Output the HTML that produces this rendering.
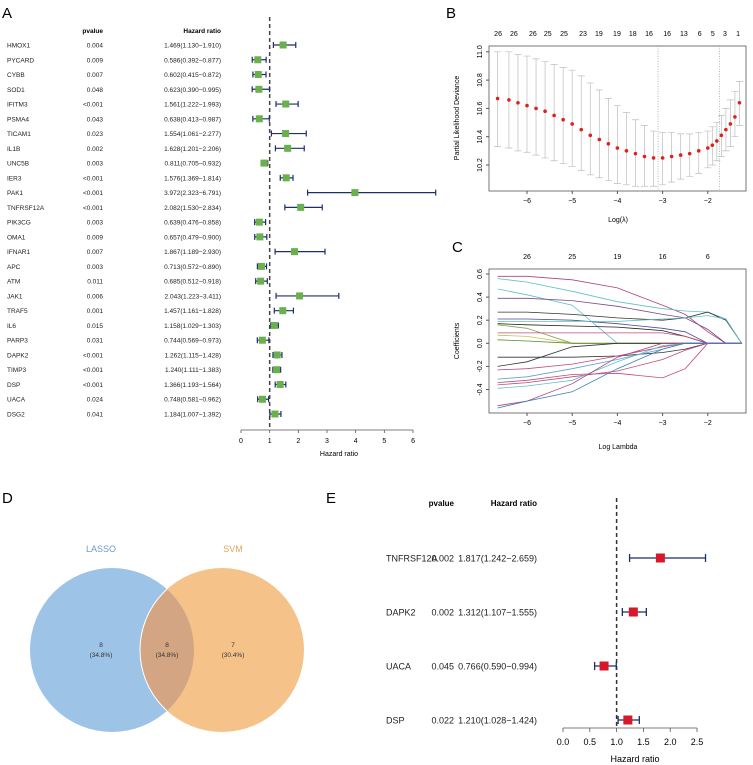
<!DOCTYPE html>
<html><head><meta charset="utf-8">
<style>
html,body{margin:0;padding:0;background:#fff;}
svg{display:block;font-family:"Liberation Sans",Arial,sans-serif;}
</style></head>
<body>
<svg id="fig" width="753" height="765" viewBox="0 0 753 765">
<text x="2" y="18" font-size="15">A</text>
<text x="446" y="18" font-size="15">B</text>
<text x="452" y="252" font-size="15">C</text>
<text x="2" y="503" font-size="15">D</text>
<text x="326" y="503" font-size="15">E</text>
<g id="pa"></g>
<g id="pb"></g>
<g id="pc"></g>
<g id="pd">
  <circle cx="112" cy="650" r="82" fill="#9dc3e6"/>
  <circle cx="222" cy="650" r="82" fill="#f5c28a"/>
  <clipPath id="cl"><circle cx="112" cy="650" r="82"/></clipPath>
  <circle cx="222" cy="650" r="82" fill="#d3a583" clip-path="url(#cl)" stroke="#fff" stroke-width="1"/>
  <text x="101" y="552" font-size="9" fill="#6a9cc9" text-anchor="middle">LASSO</text>
  <text x="233" y="552" font-size="9" fill="#e9a35c" text-anchor="middle">SVM</text>
  <g font-size="6.5" fill="#333" text-anchor="middle">
  <text x="101" y="647">8</text><text x="101" y="657">(34.8%)</text>
  <text x="167" y="647">8</text><text x="167" y="657">(34.8%)</text>
  <text x="233" y="647">7</text><text x="233" y="657">(30.4%)</text>
  </g>
</g>
<g id="pe"></g>
</svg>
<script>
// ---- Panel A data
const genesA=["HMOX1","PYCARD","CYBB","SOD1","IFITM3","PSMA4","TICAM1","IL1B","UNC5B","IER3","PAK1","TNFRSF12A","PIK3CG","OMA1","IFNAR1","APC","ATM","JAK1","TRAF5","IL6","PARP3","DAPK2","TIMP3","DSP","UACA","DSG2"];
const pvalsA=["0.004","0.009","0.007","0.048","<0.001","0.043","0.023","0.002","0.003","<0.001","<0.001","<0.001","0.003","0.009","0.007","0.003","0.011","0.006","0.001","0.015","0.031","<0.001","<0.001","<0.001","0.024","0.041"];
const hrA=[1.469,0.586,0.602,0.623,1.561,0.638,1.554,1.628,0.811,1.576,3.972,2.082,0.639,0.657,1.867,0.713,0.685,2.043,1.457,1.158,0.744,1.262,1.240,1.366,0.748,1.184];
const loA=[1.130,0.392,0.415,0.390,1.222,0.413,1.061,1.201,0.705,1.369,2.323,1.530,0.476,0.479,1.189,0.572,0.512,1.223,1.161,1.029,0.569,1.115,1.111,1.193,0.581,1.007];
const hiA=[1.910,0.877,0.872,0.995,1.993,0.987,2.277,2.206,0.932,1.814,6.791,2.834,0.858,0.900,2.930,0.890,0.918,3.411,1.828,1.303,0.973,1.428,1.383,1.564,0.962,1.392];
const ticksA=[0,1,2,3,4,5,6];
// ---- Panel B data
const lamB=[-6.65,-6.4,-6.2,-6.0,-5.8,-5.6,-5.4,-5.2,-5.0,-4.8,-4.6,-4.4,-4.2,-4.0,-3.8,-3.6,-3.4,-3.2,-3.0,-2.8,-2.6,-2.4,-2.2,-2.0,-1.9,-1.8,-1.7,-1.6,-1.5,-1.4,-1.3];
const meanB=[10.67,10.66,10.64,10.62,10.60,10.58,10.55,10.52,10.49,10.45,10.41,10.38,10.35,10.32,10.30,10.28,10.26,10.25,10.25,10.26,10.27,10.28,10.30,10.32,10.34,10.37,10.41,10.45,10.49,10.54,10.64];
const upB=[11.00,11.00,10.98,10.97,10.95,10.93,10.91,10.89,10.87,10.83,10.78,10.73,10.67,10.62,10.57,10.52,10.48,10.44,10.43,10.43,10.42,10.42,10.43,10.44,10.47,10.50,10.55,10.60,10.66,10.72,10.79];
const loB=[10.33,10.32,10.30,10.29,10.27,10.25,10.23,10.21,10.19,10.16,10.13,10.11,10.09,10.07,10.06,10.05,10.05,10.05,10.06,10.08,10.10,10.12,10.14,10.18,10.20,10.23,10.26,10.30,10.33,10.40,10.48];
const topLabB=["26","26","26","25","25","23","19","19","18","16","16","13","6","5","3","1"];
const topPosB=[-6.64,-6.29,-5.87,-5.54,-5.18,-4.76,-4.41,-4.01,-3.66,-3.30,-2.90,-2.53,-2.18,-1.89,-1.62,-1.33];
const vlinesB=[-3.1,-1.74];
const xticksBC=[-6,-5,-4,-3,-2];
const yticksB=[10.2,10.4,10.6,10.8,11.0];
// ---- Panel C data
const lamC=[-6.65,-6.0,-5.0,-4.0,-3.0,-2.5,-2.0,-1.6,-1.25];
const coefC=[
 [0.58,0.58,0.55,0.48,0.33,0.25,0.10,0.0,0.0],
 [0.56,0.53,0.45,0.36,0.30,0.28,0.27,0.21,0.0],
 [0.47,0.42,0.33,0.0,0.0,0.0,0.0,0.0,0.0],
 [0.39,0.39,0.37,0.32,0.25,0.22,0.12,0.0,0.0],
 [0.27,0.27,0.25,0.22,0.20,0.22,0.27,0.20,0.0],
 [0.21,0.21,0.20,0.17,0.13,0.10,0.0,0.0,0.0],
 [0.19,0.19,0.19,0.19,0.21,0.22,0.24,0.21,0.0],
 [0.17,0.16,0.15,0.14,0.11,0.06,0.0,0.0,0.0],
 [0.16,0.13,0.0,0.0,0.0,0.0,0.0,0.0,0.0],
 [0.09,0.09,0.09,0.09,0.09,0.06,0.0,0.0,0.0],
 [0.07,0.06,0.0,0.0,0.0,0.0,0.0,0.0,0.0],
 [0.03,0.02,0.0,0.0,0.0,0.0,0.0,0.0,0.0],
 [-0.12,-0.12,-0.12,-0.11,-0.08,-0.05,0.0,0.0,0.0],
 [-0.20,-0.16,-0.03,0.0,0.0,0.0,0.0,0.0,0.0],
 [-0.23,-0.22,-0.18,-0.11,-0.03,0.0,0.0,0.0,0.0],
 [-0.31,-0.29,-0.22,-0.14,-0.05,0.0,0.0,0.0,0.0],
 [-0.34,-0.32,-0.27,-0.26,-0.30,-0.22,0.0,0.0,0.0],
 [-0.36,-0.34,-0.29,-0.24,-0.14,-0.06,0.0,0.0,0.0],
 [-0.39,-0.37,-0.32,-0.16,-0.02,0.0,0.0,0.0,0.0],
 [-0.54,-0.50,-0.35,-0.12,0.0,0.0,0.0,0.0,0.0],
 [-0.56,-0.50,-0.42,-0.22,-0.05,0.0,0.0,0.0,0.0]
];
const colorsC=["#b0427a","#5fc0c8","#5fc0c8","#7a4a8a","#333333","#4a4a9a","#5fc0c8","#222222","#7aa84a","#c04a7a","#c8c04a","#5a8a3a","#333333","#333333","#c04a7a","#5fa0d0","#c04a7a","#c04a7a","#5fc0c8","#b0427a","#3a7ac0"];
const yticksC=[-0.4,-0.2,0.0,0.2,0.4,0.6];
const topLabC=["26","25","19","16","6"];
// ---- Panel E data
const genesE=["TNFRSF12A","DAPK2","UACA","DSP"];
const pvalsE=["0.002","0.002","0.045","0.022"];
const hrE=[1.817,1.312,0.766,1.210];
const loE=[1.242,1.107,0.590,1.028];
const hiE=[2.659,1.555,0.994,1.424];
const ticksE=[0.0,0.5,1.0,1.5,2.0,2.5];

const NS="http://www.w3.org/2000/svg";
function mk(parent,tag,attrs,text){const e=document.createElementNS(NS,tag);for(const k in attrs)e.setAttribute(k,attrs[k]);if(text!==undefined)e.textContent=text;parent.appendChild(e);return e;}

// ===== Panel A
(function(){
 const g=document.getElementById('pa');
 const xA=v=>241+v*28.67;
 const yA=i=>45+i*14.76;
 let t=mk(g,'text',{x:103,y:33,'font-size':6.5,'font-weight':'bold','text-anchor':'end'},'pvalue');
 
 
 t=mk(g,'text',{x:221,y:33,'font-size':6.5,'font-weight':'bold','text-anchor':'end'},'Hazard ratio');
 
 
 let l=mk(g,'line',{x1:xA(1),x2:xA(1),y1:17,y2:430,stroke:'#444','stroke-width':1.5,'stroke-dasharray':'4,3'});
 
 
 genesA.forEach((gn,i)=>{
  const y=yA(i);
  let a=mk(g,'text',{x:7,y:y+2.5,'font-size':6.5,fill:'#222'},gn);
  
  
  a=mk(g,'text',{x:103,y:y+2.5,'font-size':6.5,fill:'#222','text-anchor':'end'},pvalsA[i]);
  
  
  a=mk(g,'text',{x:221,y:y+2.5,'font-size':6.5,fill:'#222','text-anchor':'end'},hrA[i].toFixed(3)+'('+loA[i].toFixed(3)+'\u2212'+hiA[i].toFixed(3)+')');
  
  
  const x1=xA(loA[i]),x2=xA(hiA[i]);
  const ci=mk(g,'path',{d:`M${x1},${y}H${x2}M${x1},${y-3}V${y+3}M${x2},${y-3}V${y+3}`,stroke:'#1f2f6b','stroke-width':1.2,fill:'none'});
  
  
  const r=mk(g,'rect',{x:xA(hrA[i])-3.5,y:y-3.5,width:7,height:7,fill:'#6ab04c'});
  
  
 });
 const ax=mk(g,'line',{x1:xA(0),x2:xA(6),y1:430,y2:430,stroke:'#555','stroke-width':0.8});
 
 
 ticksA.forEach(v=>{
  mk(g,'line',{x1:xA(v),x2:xA(v),y1:430,y2:433,stroke:'#555','stroke-width':0.8});
  const tt=mk(g,'text',{x:xA(v),y:443,'font-size':7,'text-anchor':'middle'},String(v));
  
  
 });
 t=mk(g,'text',{x:339,y:456,'font-size':7,'text-anchor':'middle'},'Hazard ratio');
 
 
})();

// ===== Panel B
(function(){
 const g=document.getElementById('pb');
 const xB=v=>527+(v+6)*45.2;
 const yB=v=>165-(v-10.2)/0.2*28.3;
 let r=mk(g,'rect',{x:489,y:46,width:257,height:145,fill:'none',stroke:'#555','stroke-width':0.8});
 
 
 vlinesB.forEach(v=>{const l=mk(g,'line',{x1:xB(v),x2:xB(v),y1:46,y2:191,stroke:'#999','stroke-width':0.7,'stroke-dasharray':'1,1.5'});
  
  });
 lamB.forEach((lm,i)=>{
  const x=xB(lm);
  const e=mk(g,'path',{d:`M${x},${yB(upB[i])}V${yB(loB[i])}M${x-3.5},${yB(upB[i])}H${x+3.5}M${x-3.5},${yB(loB[i])}H${x+3.5}`,stroke:'#bdbdbd','stroke-width':0.7,fill:'none'});
  
  
  const c=mk(g,'circle',{cx:x,cy:yB(meanB[i]),r:1.8,fill:'#e0201b'});
  
  
 });
 xticksBC.forEach(v=>{mk(g,'line',{x1:xB(v),x2:xB(v),y1:191,y2:194,stroke:'#555'});
  const t=mk(g,'text',{x:xB(v),y:203,'font-size':7,'text-anchor':'middle'},'\u2212'+Math.abs(v));
  
  });
 yticksB.forEach(v=>{mk(g,'line',{x1:486,x2:489,y1:yB(v),y2:yB(v),stroke:'#555'});
  const t=mk(g,'text',{x:482,y:yB(v),'font-size':7,'text-anchor':'middle',transform:`rotate(-90 482 ${yB(v)})`},v.toFixed(1));
  
  });
 topLabB.forEach((s,i)=>{const t=mk(g,'text',{x:xB(topPosB[i]),y:36,'font-size':7,'text-anchor':'middle'},s);
  
  });
 let t=mk(g,'text',{x:618,y:222,'font-size':7,'text-anchor':'middle'},'Log(\u03bb)');
 
 
 t=mk(g,'text',{x:459,y:118,'font-size':7,'text-anchor':'middle',transform:'rotate(-90 459 118)'},'Partial Likelihood Deviance');
 
 
})();

// ===== Panel C
(function(){
 const g=document.getElementById('pc');
 const xC=v=>527+(v+6)*45.2;
 const yC=v=>343.3-v/0.2*23.1;
 let r=mk(g,'rect',{x:489,y:269,width:257,height:144,fill:'none',stroke:'#555','stroke-width':0.8});
 
 
 coefC.forEach((arr,k)=>{
  let d='';
  arr.forEach((v,i)=>{d+=(i?'L':'M')+xC(lamC[i]).toFixed(1)+','+yC(v).toFixed(1);});
  const p=mk(g,'path',{d:d,fill:'none',stroke:colorsC[k],'stroke-width':0.8});
  
  
 });
 xticksBC.forEach((v,i)=>{mk(g,'line',{x1:xC(v),x2:xC(v),y1:413,y2:416,stroke:'#555'});
  let t=mk(g,'text',{x:xC(v),y:425,'font-size':7,'text-anchor':'middle'},'\u2212'+Math.abs(v));
  
  
  t=mk(g,'text',{x:xC(v),y:259,'font-size':7,'text-anchor':'middle'},topLabC[i]);
  
  });
 yticksC.forEach(v=>{mk(g,'line',{x1:486,x2:489,y1:yC(v),y2:yC(v),stroke:'#555'});
  const t=mk(g,'text',{x:482,y:yC(v),'font-size':7,'text-anchor':'middle',transform:`rotate(-90 482 ${yC(v)})`},v.toFixed(1));
  
  });
 let t=mk(g,'text',{x:618,y:449,'font-size':7,'text-anchor':'middle'},'Log Lambda');
 
 
 t=mk(g,'text',{x:459,y:341,'font-size':7,'text-anchor':'middle',transform:'rotate(-90 459 341)'},'Coefficients');
 
 
})();

// ===== Panel E
(function(){
 const g=document.getElementById('pe');
 const xE=v=>563+v*53.6;
 const yE=i=>558+i*54;
 let t=mk(g,'text',{x:454,y:506,'font-size':8,'font-weight':'bold','text-anchor':'end'},'pvalue');
 
 
 t=mk(g,'text',{x:537,y:506,'font-size':8,'font-weight':'bold','text-anchor':'end'},'Hazard ratio');
 
 
 const l=mk(g,'line',{x1:xE(1),x2:xE(1),y1:498,y2:728,stroke:'#333','stroke-width':1.5,'stroke-dasharray':'4,3'});
 
 
 genesE.forEach((gn,i)=>{
  const y=yE(i);
  let a=mk(g,'text',{x:386,y:y+3.5,'font-size':9,fill:'#222'},gn);
  
  
  a=mk(g,'text',{x:454,y:y+3.5,'font-size':9,fill:'#222','text-anchor':'end'},pvalsE[i]);
  
  
  a=mk(g,'text',{x:537,y:y+3.5,'font-size':9,fill:'#222','text-anchor':'end'},hrE[i].toFixed(3)+'('+loE[i].toFixed(3)+'\u2212'+hiE[i].toFixed(3)+')');
  
  
  const x1=xE(loE[i]),x2=xE(hiE[i]);
  const ci=mk(g,'path',{d:`M${x1},${y}H${x2}M${x1},${y-4}V${y+4}M${x2},${y-4}V${y+4}`,stroke:'#1f2f6b','stroke-width':1.3,fill:'none'});
  
  
  const r=mk(g,'rect',{x:xE(hrE[i])-4.5,y:y-4.5,width:9,height:9,fill:'#d7182a'});
  
  
 });
 const ax=mk(g,'line',{x1:xE(0),x2:xE(2.5),y1:728,y2:728,stroke:'#555','stroke-width':0.8});
 
 
 ticksE.forEach(v=>{mk(g,'line',{x1:xE(v),x2:xE(v),y1:728,y2:732,stroke:'#555','stroke-width':0.8});
  const tt=mk(g,'text',{x:xE(v),y:745,'font-size':9,'text-anchor':'middle'},v.toFixed(1));
  
  });
 t=mk(g,'text',{x:635,y:762,'font-size':9,'text-anchor':'middle'},'Hazard ratio');
 
 
})();
</script>
</body></html>
